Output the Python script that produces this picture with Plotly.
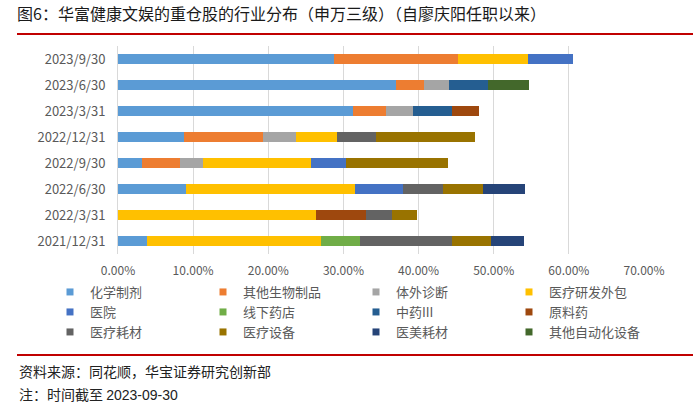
import plotly.graph_objects as go

categories = ["2021/12/31", "2022/3/31", "2022/6/30", "2022/9/30",
              "2022/12/31", "2023/3/31", "2023/6/30", "2023/9/30"]

series_names = ["化学制剂", "其他生物制品", "体外诊断", "医疗研发外包",
                "医院", "线下药店", "中药III", "原料药",
                "医疗耗材", "医疗设备", "医美耗材", "其他自动化设备"]

chem = [3.9, None, 9.1, 3.2, 8.8, 31.3, 37.0, 28.8]
bio = [None, None, None, 5.1, 10.5, 4.4, 3.7, 16.4]
ivd = [None, None, None, 3.0, 4.4, 3.5, 3.4, None]
cro = [23.1, 26.3, 22.5, 14.4, 5.4, None, None, 9.4]
hosp = [None, None, 6.3, 4.6, None, None, None, 5.9]
pharmacy = [5.2, None, None, None, None, None, None, None]
tcm = [None, None, None, None, None, 5.2, 5.1, None]
api = [None, 6.7, None, None, None, 3.6, None, None]
consumables = [12.2, 3.5, 5.3, None, 5.3, None, None, None]
equipment = [5.2, 3.3, 5.4, 13.6, 13.1, None, None, None]
aesthetic = [4.4, None, 5.5, None, None, None, None, None]
automation = [None, None, None, None, None, None, 5.5, None]

series_values = [chem, bio, ivd, cro, hosp, pharmacy, tcm, api,
                 consumables, equipment, aesthetic, automation]

colors = ["#5B9BD5", "#ED7D31", "#A5A5A5", "#FFC000",
          "#4472C4", "#70AD47", "#255E91", "#9E480E",
          "#636363", "#997300", "#264478", "#43682B"]

x_ticks = [0, 10, 20, 30, 40, 50, 60, 70]
x_tick_labels = ["0.00%", "10.00%", "20.00%", "30.00%", "40.00%", "50.00%", "60.00%", "70.00%"]

title_text = "图6：华富健康文娱的重仓股的行业分布（申万三级）（自廖庆阳任职以来）"
source_text = "资料来源：同花顺，华宝证券研究创新部"
note_text = "注：时间截至 <span style='font-family:Liberation Sans, Arial'>2023-09-30</span>"

W, H = 700, 407
L, R, T, B = 118, 56, 46, 153
PW, PH = W - L - R, H - T - B


def px(xp):
    return (xp - L) / PW


def py(yp):
    return (H - B - yp) / PH


CJK = "Noto Sans CJK SC"
fig = go.Figure()

for i, (name, vals, col) in enumerate(zip(series_names, series_values, colors)):
    fig.add_trace(go.Bar(
        y=categories, x=vals, name=name, orientation="h",
        marker=dict(color=col, line=dict(width=0)),
        showlegend=False, hoverinfo="x+name",
    ))

legend_ids = ["legend", "legend2", "legend3"]
for i, (name, col) in enumerate(zip(series_names, colors)):
    fig.add_trace(go.Scatter(
        x=[None], y=[None], mode="markers", name=name,
        marker=dict(symbol="square", size=7, color=col),
        legend=legend_ids[i // 4], showlegend=True,
    ))

legend_rows_y = [292, 312, 332]
legend_common = dict(
    orientation="h", xref="paper", yref="paper",
    xanchor="left", yanchor="middle", traceorder="normal",
    font=dict(family=CJK, size=13, color="#595959"),
    entrywidth=108, entrywidthmode="pixels",
    bgcolor="rgba(0,0,0,0)", borderwidth=0, itemclick=False,
    tracegroupgap=0,
)
legend_layouts = {}
for lid, yy in zip(legend_ids, legend_rows_y):
    legend_layouts[lid] = dict(legend_common, x=px(50), y=py(yy))

fig.update_layout(
    width=W, height=H,
    margin=dict(l=L, r=R, t=T, b=B, autoexpand=False),
    paper_bgcolor="white", plot_bgcolor="white",
    barmode="stack", bargap=0.62,
    font=dict(family=CJK, color="#595959"),
    title=dict(text=title_text, x=17 / W, xanchor="left", xref="container",
               y=1 - 14 / H, yanchor="middle", yref="container",
               font=dict(family=CJK, size=16, color="#1a1a1a")),
    xaxis=dict(range=[0, 70], tickvals=x_ticks, ticktext=x_tick_labels,
               showgrid=True, gridcolor="#D9D9D9", gridwidth=1,
               zeroline=False, showline=False,
               ticks="outside", ticklen=6, tickcolor="rgba(0,0,0,0)",
               tickfont=dict(family=CJK, size=12, color="#595959"),
               fixedrange=True),
    yaxis=dict(categoryorder="array", categoryarray=categories,
               showgrid=False, zeroline=False,
               showline=True, linecolor="#D9D9D9", linewidth=1,
               ticks="outside", ticklen=9, tickcolor="rgba(0,0,0,0)",
               tickfont=dict(family=CJK, size=13, color="#595959"),
               fixedrange=True),
    showlegend=True,
    **legend_layouts,
)

# red rules
fig.add_shape(type="line", xref="paper", yref="paper",
              x0=px(17), x1=px(693), y0=py(34), y1=py(34),
              line=dict(color="#C00000", width=2))
fig.add_shape(type="line", xref="paper", yref="paper",
              x0=px(17), x1=px(693), y0=py(355), y1=py(355),
              line=dict(color="#C00000", width=2))

fig.add_annotation(text=source_text, xref="paper", yref="paper",
                   x=px(17), y=py(371), xanchor="left", yanchor="middle",
                   showarrow=False, font=dict(family=CJK, size=14, color="#222222"))
fig.add_annotation(text=note_text, xref="paper", yref="paper",
                   x=px(17), y=py(394), xanchor="left", yanchor="middle",
                   showarrow=False, font=dict(family=CJK, size=14, color="#222222"))

fig.write_html(
    "out.html",
    config={"displayModeBar": False},
    post_script="document.body.style.margin='0';document.body.style.padding='0';"
                "document.body.style.overflow='hidden';",
)
